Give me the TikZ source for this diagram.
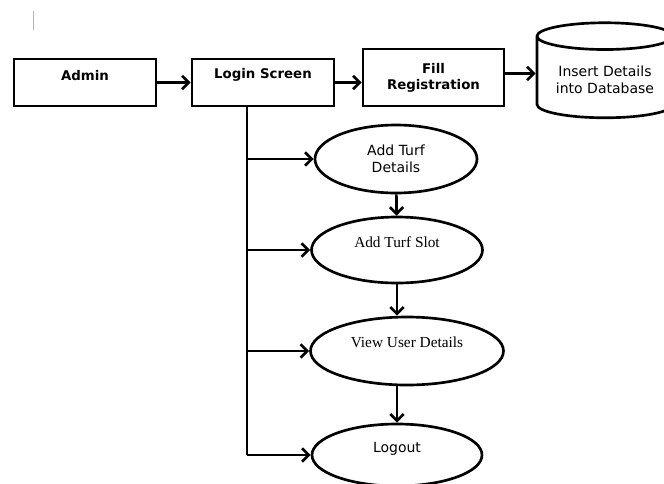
\documentclass[tikz,border=0pt]{standalone}
\usepackage{fontspec}
\setmainfont{DejaVu Sans}
\newfontfamily\timesfont{Liberation Serif}
\usetikzlibrary{shapes.geometric,arrows.meta}
\begin{document}
\begin{tikzpicture}[x=0.75pt,y=-0.75pt,line width=2pt,
  seta/.style={-{Straight Barb[length=5pt,width=10pt]}},
  caixa/.style={draw,rectangle,minimum width=106.5pt,minimum height=35.25pt,font=\fontsize{10}{12}\selectfont\bfseries},
  oval/.style={draw,ellipse,inner sep=0pt,font=\fontsize{10.5}{13}\selectfont},
  negrito/.style={font=\fontsize{10}{12}\selectfont\bfseries},
  serifa/.style={font=\fontsize{11.5}{13}\selectfont\timesfont},
  sans/.style={font=\fontsize{10.5}{13}\selectfont}]
\useasboundingbox (0,0) rectangle (664,483);
%cursor
  \draw[gray!60,line width=0.6pt] (33,11) -- (33,30);
%caixas
  \node[caixa,label={[negrito,yshift=5.6pt]center:Admin}] (admin) at (85,82.5) {};
  \node[caixa,label={[negrito,yshift=5.6pt]center:Login Screen}] (login) at (263,82.5) {};
  \node[caixa,align=center,minimum width=105.75pt,minimum height=42.75pt] (fill) at (433.5,77.5) {Fill\\Registration};
  \node[draw,cylinder,shape border rotate=90,aspect=0.25,minimum width=102pt,minimum height=71.25pt,
        align=center,sans] (db) at (605,80) {Insert Details\\into Database};
%elipses
  \node[oval,minimum width=121.5pt,minimum height=51pt,align=center] (det) at (396,159) {Add Turf\\Details};
  \node[oval,minimum width=128.25pt,minimum height=49.5pt,label={[serifa,yshift=6pt]center:Add Turf Slot}] (slot) at (397,250) {};
  \node[oval,minimum width=144.75pt,minimum height=51pt,label={[serifa,yshift=6.75pt]center:View User Details}] (view) at (407,351) {};
  \node[oval,minimum width=127.5pt,minimum height=46.5pt,label={[sans,yshift=4.5pt]center:Logout}] (logout) at (397,455) {};
%setas
  \coordinate (topo) at (247,106);
  \draw[seta] (admin) -- (login);
  \draw[seta] (login.east) -- (login.east -| fill.west);
  \draw[seta] ([yshift=3pt]fill.east) -- ([yshift=3pt]fill.east -| db.west);
  \draw (topo) -- (topo |- logout.west);
  \foreach \n in {det,slot,view,logout}
    \draw[seta] (topo |- \n.west) -- (\n.west);
  \draw[seta] (det) -- (slot);
  \draw[seta] (slot.south) -- (slot.south |- view.north);
  \draw[seta] (logout.north |- view.south) -- (logout.north);
\end{tikzpicture}
\end{document}
